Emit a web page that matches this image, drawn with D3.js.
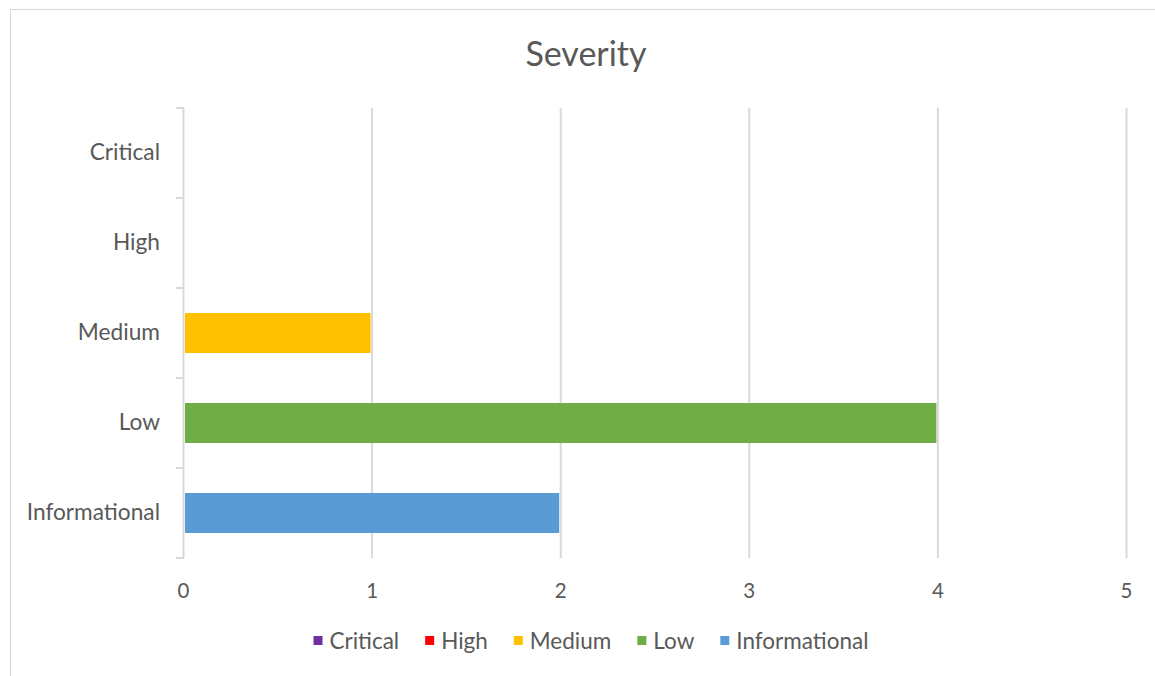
<!DOCTYPE html>
<html>
<head>
<meta charset="utf-8">
<script src="https://cdn.jsdelivr.net/npm/d3@7"></script>
<style>
  body { margin: 0; background: #fff; }
  text { font-family: Lato, "Open Sans", sans-serif; fill: #595959; }
</style>
</head>
<body>
<div id="chart"></div>
<script>
// data
var categories = ["Critical", "High", "Medium", "Low", "Informational"];
var counts = [0, 0, 1, 4, 2];
var colors = ["#7030a0", "#ff0000", "#ffc000", "#70ad47", "#5b9bd5"];
var xTicks = [0, 1, 2, 3, 4, 5];

var width = 1155, height = 676;

var svg = d3.select("#chart")
    .append("svg")
        .attr("width", width)
        .attr("height", height);

// chart area border (only top and left show in the picture)
svg.append("rect")
    .attr("x", 10.5).attr("y", 9.5)
    .attr("width", width + 20).attr("height", height + 20)
    .attr("fill", "none")
    .attr("stroke", "#d9d9d9");

// title
svg.append("text")
    .attr("x", 586).attr("y", 66)
    .attr("text-anchor", "middle")
    .style("font-size", "34px")
    .text("Severity");

// scales
var xScale = d3.scaleLinear()
    .domain([0, 5])
    .range([184, 1127]);

var yScale = d3.scaleBand()
    .domain(categories)
    .range([108, 558])
    .paddingInner(5 / 9)
    .paddingOuter(5 / 18);

// gridlines
svg.append("g")
    .selectAll("line")
    .data(xTicks.slice(1))
    .enter().append("line")
        .attr("x1", function(d) { return xScale(d) - 0.5; })
        .attr("x2", function(d) { return xScale(d) - 0.5; })
        .attr("y1", 108).attr("y2", 558)
        .attr("stroke", "#d9d9d9")
        .attr("stroke-width", 2);

// bars
svg.append("g")
    .selectAll("rect")
    .data(categories)
    .enter().append("rect")
        .attr("x", xScale(0) + 1)
        .attr("y", function(d) { return yScale(d); })
        .attr("width", function(d, i) { return Math.max(0, xScale(counts[i]) - xScale(0) - 3); })
        .attr("height", yScale.bandwidth())
        .attr("fill", function(d, i) { return colors[i]; });

// y axis line + tick marks at band boundaries
var step = yScale.step();
var boundaries = d3.range(categories.length + 1).map(function(i) { return 108 + i * step; });
var yAxisG = svg.append("g");
yAxisG.append("line")
    .attr("x1", xScale(0) - 0.5).attr("x2", xScale(0) - 0.5)
    .attr("y1", 108).attr("y2", 558)
    .attr("stroke", "#d9d9d9").attr("stroke-width", 2);
yAxisG.selectAll(".tick")
    .data(boundaries)
    .enter().append("line")
        .attr("x1", xScale(0) - 8).attr("x2", xScale(0))
        .attr("y1", function(d) { return d; })
        .attr("y2", function(d) { return d; })
        .attr("stroke", "#d9d9d9").attr("stroke-width", 2);

// category labels
var yAxis = d3.axisLeft(yScale).tickSize(0).tickPadding(24);
var yLabels = svg.append("g")
    .attr("transform", "translate(" + xScale(0) + ",0)")
    .call(yAxis);
yLabels.select(".domain").remove();
yLabels.selectAll("text")
    .style("font-size", "22.7px")
    .attr("fill", "#595959")
    .style("font-family", "Lato, sans-serif");

// x axis labels
var xAxis = d3.axisBottom(xScale).tickValues(xTicks).tickFormat(d3.format("d")).tickSize(0).tickPadding(25);
var xLabels = svg.append("g")
    .attr("transform", "translate(-1,558)")
    .call(xAxis);
xLabels.select(".domain").remove();
xLabels.selectAll("text")
    .style("font-size", "20.5px")
    .attr("fill", "#595959")
    .style("font-family", "Lato, sans-serif");

// legend
var legend = svg.append("g");
var lx = 0;
categories.forEach(function(c, i) {
    var g = legend.append("g");
    g.append("rect")
        .attr("x", 0).attr("y", -5)
        .attr("width", 9).attr("height", 9)
        .attr("fill", colors[i]);
    var t = g.append("text")
        .attr("x", 16).attr("y", 8)
        .style("font-size", "22.5px")
        .text(c);
    var w = 16 + t.node().getComputedTextLength();
    g.attr("transform", "translate(" + lx + ",0)");
    lx += w + 26;
});
lx -= 26;
legend.attr("transform", "translate(" + (591 - lx / 2) + ",641)");
</script>
</body>
</html>
